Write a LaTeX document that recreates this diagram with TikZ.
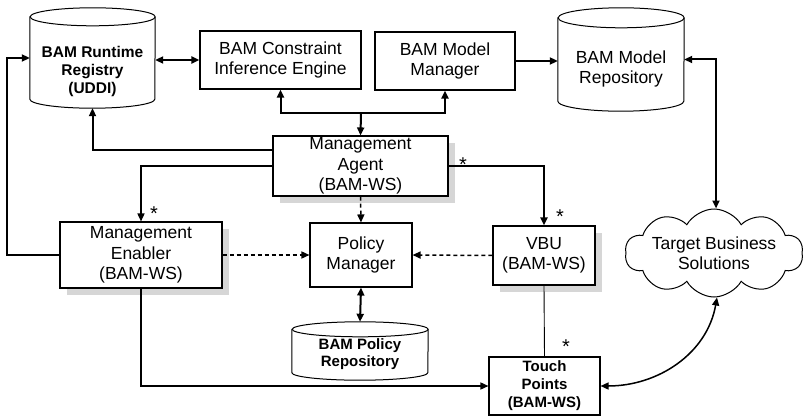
\documentclass[tikz,border=0pt]{standalone}
\usepackage{fontspec}
\setmainfont{Liberation Sans}
\usetikzlibrary{arrows.meta,shapes.symbols,shadows}
\newcommand\drawdrum[3]{%
  \draw[line width=1pt, fill=white] ([yshift=-#3pt]#1.north west) -- ([yshift=#3pt]#1.south west)
    arc[start angle=180,end angle=360,x radius=#2pt,y radius=#3pt]
    -- ([yshift=-#3pt]#1.north east)
    arc[start angle=0,end angle=180,x radius=#2pt,y radius=#3pt] -- cycle;
  \draw[line width=1pt] ([yshift=-#3pt]#1.north east)
    arc[start angle=0,end angle=-180,x radius=#2pt,y radius=#3pt];}
\begin{document}
\begin{tikzpicture}[x=1pt,y=-1pt,
  box/.style={draw, line width=1.1pt, fill=white, align=center, inner sep=0pt,
    font=\fontsize{17.5}{20.5}\selectfont},
  shbox/.style={box, drop shadow={shadow xshift=7pt, shadow yshift=-7pt, fill=black!16, opacity=1}},
  drum/.style={draw=none, inner sep=0pt},
  drumtxtb/.style={align=center, inner sep=0pt, font=\fontsize{15.5}{18}\selectfont\bfseries},
  drumtxt/.style={align=center, inner sep=0pt, font=\fontsize{17.5}{20.5}\selectfont},
  mult/.style={inner sep=0pt, font=\fontsize{20}{20}\selectfont},
  tip/.style={-{Triangle[length=8pt,width=7pt]}},
  dtip/.style={{Triangle[length=8pt,width=7pt]}-{Triangle[length=8pt,width=7pt]}},
  heavy/.style={line width=2pt},
  medium/.style={line width=1.5pt},
  light/.style={line width=0.9pt},
  dash line/.style={line width=1.5pt, dash pattern=on 4pt off 3pt}
]
\useasboundingbox (0,0) rectangle (811,417);

% cylinders
\node[drum, minimum width=125pt, minimum height=100pt] (reg) at (92.5,58) {};
\drawdrum{reg}{62.5}{9}
\node[drumtxtb] (regt) at (92.5,71) {BAM Runtime\\Registry\\(UDDI)};

\node[drum, minimum width=126pt, minimum height=103pt] (mrepo) at (621,59.5) {};
\drawdrum{mrepo}{63}{10}
\node[drumtxt] (mrepot) at (621,69) {BAM Model\\Repository};

\node[drum, minimum width=136pt, minimum height=58pt] (prepo) at (360,351) {};
\drawdrum{prepo}{68}{7.5}
\node[drumtxtb, font=\fontsize{15}{17}\selectfont\bfseries] (prepot) at (360,354) {BAM Policy\\Repository};

% boxes
\node[box, minimum width=161pt, minimum height=58pt] (cie) at (280.5,60) {BAM Constraint\\Inference Engine};
\node[box, minimum width=140pt, minimum height=58pt] (mm) at (445,61) {BAM Model\\Manager};
\node[shbox, minimum width=175pt, minimum height=60pt] (ma) at (360.5,166) {Management\\Agent\\(BAM-WS)};
\node[shbox, minimum width=162pt, minimum height=66pt] (me) at (141,255) {Management\\Enabler\\(BAM-WS)};
\node[box, minimum width=102pt, minimum height=64pt] (pm) at (361,255) {Policy\\Manager};
\node[shbox, minimum width=102pt, minimum height=59pt] (vbu) at (544,255.5) {VBU\\(BAM-WS)};
\node[box, minimum width=111pt, minimum height=58pt, font=\fontsize{15}{18}\selectfont\bfseries] (tp) at (544.5,386) {Touch\\Points\\(BAM-WS)};

% cloud
\node[cloud, draw, line width=1pt, cloud puffs=10, cloud puff arc=120, cloud ignores aspect,
  minimum width=178pt, minimum height=88pt, inner sep=0pt, align=center,
  font=\fontsize{17.5}{20.5}\selectfont] (cloud) at (714,253) {Target Business\\Solutions};

% connectors
\draw[heavy, dtip] (cie.west) -- (cie.west -| reg.east);
\draw[heavy, tip] (mm.east) -- (mm.east -| mrepo.west);
\draw[heavy, dtip] (mrepo.east) -| ([xshift=2pt]cloud.north);

\coordinate (jn) at (361,113);
\draw[heavy, tip] (jn) -- (ma.north);
\draw[heavy, tip] (jn) -| (cie.south);
\draw[heavy, tip] (jn) -| (mm.south);

\draw[heavy, tip] ([yshift=16pt]ma.west) -| (reg.south);
\draw[medium, tip] (ma.west) -| (me.north);
\draw[heavy, tip] (ma.east) -| (vbu.north);
\draw[heavy, tip] (me.west) -- ++(-52,0) |- (reg.west);

\draw[dash line, tip] (me.east) -- (pm.west);
\draw[dash line, tip] (vbu.west) -- (pm.east);
\draw[dash line, tip] (ma.south) -- (pm.north);

\draw[heavy, dtip] (pm.south) -- (prepo.north);
\draw[light] (vbu.south) -- (tp.north);
\draw[medium, tip] (me.south) |- (tp.west);
\draw[medium, dtip] (tp.east) to[out=0, in=-100] ([xshift=3pt]cloud.south);

% multiplicities
\node[mult] (s1) at (154,214) {*};
\node[mult] (s2) at (463,165) {*};
\node[mult] (s3) at (560,217) {*};
\node[mult] (s4) at (566,347) {*};
\end{tikzpicture}
\end{document}
